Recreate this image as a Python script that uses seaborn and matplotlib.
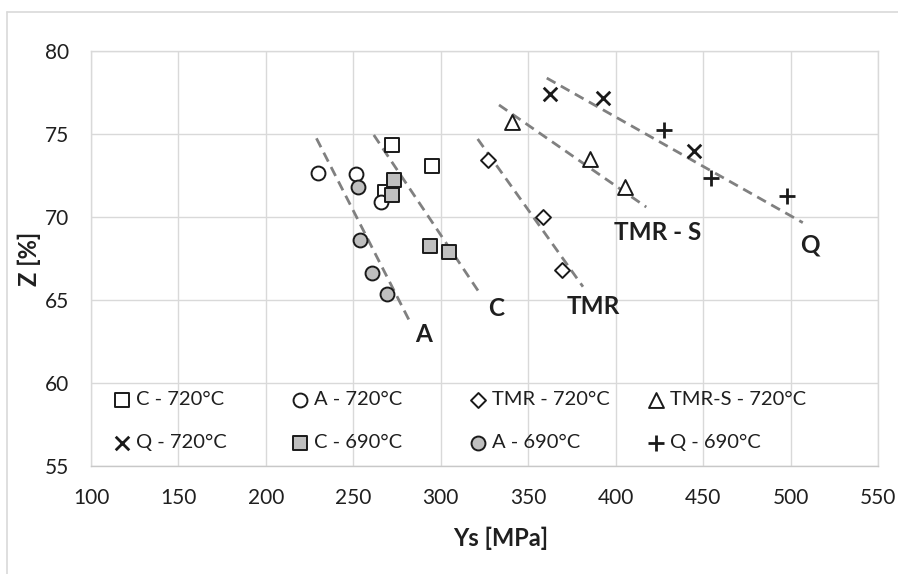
import matplotlib
matplotlib.use("Agg")
import matplotlib.pyplot as plt
import seaborn as sns
import pandas as pd
from matplotlib.lines import Line2D
from matplotlib.legend import Legend

# ---------------- data ----------------
c720_ys = [272.2, 295.2, 268.0]
c720_z = [74.34, 73.07, 71.5]
a720_ys = [229.9, 251.4, 266.1]
a720_z = [72.63, 72.57, 70.9]
tmr720_ys = [327.0, 358.3, 369.5]
tmr720_z = [73.43, 70.02, 66.81]
tmrs720_ys = [340.7, 385.1, 405.1]
tmrs720_z = [75.7, 73.47, 71.83]
q720_ys = [362.3, 392.8, 444.8]
q720_z = [77.39, 77.19, 73.98]
c690_ys = [273.3, 272.2, 293.7, 304.5]
c690_z = [72.2, 71.33, 68.27, 67.88]
a690_ys = [252.4, 253.9, 260.8, 269.5]
a690_z = [71.83, 68.6, 66.64, 65.38]
q690_ys = [427.6, 454.3, 498.1]
q690_z = [75.24, 72.37, 71.28]

series_labels = ["C - 720°C", "A - 720°C", "TMR - 720°C", "TMR-S - 720°C",
                 "Q - 720°C", "C - 690°C", "A - 690°C", "Q - 690°C"]

# trend lines (start / end of each dashed line)
trend_names = ["A", "C", "TMR", "TMR - S", "Q"]
trend_ys = [[228.9, 282.3], [261.7, 321.7], [321.1, 381.3], [333.3, 417.5], [360.6, 507.0]]
trend_z = [[74.74, 63.7], [74.94, 65.5], [74.7, 65.8], [76.75, 70.6], [78.37, 69.66]]
# group label positions
label_ys = [290.3, 331.8, 387.0, 424.2, 510.9]
label_z = [62.9, 64.5, 64.6, 69.08, 68.3]

x_ticks = [100, 150, 200, 250, 300, 350, 400, 450, 500, 550]
y_ticks = [55, 60, 65, 70, 75, 80]

# ---------------- style ----------------
sns.set_style("white")
plt.rcParams["font.family"] = ["Lato", "DejaVu Sans"]
TXT = "#1f1f1f"
GRID = "#d9d9d9"
GRAY = "#bfbfbf"
EDGE = "#1a1a1a"

fig = plt.figure(figsize=(8.98, 5.74), dpi=100)
ax = fig.add_axes([91 / 898, 1 - 466 / 574, (878 - 91) / 898, (466 - 51) / 574])

# trend lines
for xs, zs in zip(trend_ys, trend_z):
    sns.lineplot(x=xs, y=zs, ax=ax, color="#808080", linewidth=2.0,
                 linestyle=(0, (3.6, 2.2)), sort=False, estimator=None, zorder=2)

specs = [
    (c720_ys, c720_z, "s", "white", 100, 1.4),
    (a720_ys, a720_z, "o", "white", 100, 1.4),
    (tmr720_ys, tmr720_z, "D", "white", 58, 1.4),
    (tmrs720_ys, tmrs720_z, "^", "white", 115, 1.4),
    (q720_ys, q720_z, "x", EDGE, 95, 2.0),
    (c690_ys, c690_z, "s", GRAY, 100, 1.4),
    (a690_ys, a690_z, "o", GRAY, 100, 1.4),
    (q690_ys, q690_z, "+", EDGE, 140, 2.0),
]
handles = []
for (xs, zs, mk, fc, s, lw), lab in zip(specs, series_labels):
    n_before = len(ax.collections)
    if mk in ("x", "+"):
        sns.scatterplot(x=xs, y=zs, ax=ax, marker=mk, color=EDGE, s=s,
                        linewidth=lw, legend=False, zorder=3)
    else:
        sns.scatterplot(x=xs, y=zs, ax=ax, marker=mk, color=fc, edgecolor=EDGE,
                        s=s, linewidth=lw, legend=False, zorder=3)
    handles.append(ax.collections[n_before])

# group labels
for name, xv, yv in zip(trend_names, label_ys, label_z):
    ax.text(xv, yv, name, ha="center", va="center", fontsize=17.5,
            fontweight="bold", color=TXT, zorder=4)

ax.set_xlim(100, 550)
ax.set_ylim(55, 80)
ax.set_xticks(x_ticks)
ax.set_yticks(y_ticks)
ax.set_xticklabels([str(v) for v in x_ticks])
ax.set_yticklabels([str(v) for v in y_ticks])
ax.tick_params(axis="both", length=0, labelsize=15, labelcolor=TXT)
ax.tick_params(axis="x", pad=16)
ax.tick_params(axis="y", pad=16)
ax.grid(True, color=GRID, linewidth=1.0, zorder=0)
ax.set_axisbelow(True)
for side in ["left", "right", "top", "bottom"]:
    ax.spines[side].set_color(GRID)
    ax.spines[side].set_linewidth(1.0)
ax.spines["bottom"].set_color("#c8c8c8")

ax.set_xlabel("Ys [MPa]", fontsize=17, fontweight="bold", color=TXT)
ax.xaxis.label.set_verticalalignment("center")
ax.xaxis.set_label_coords((501 - 91) / 787, -(538 - 466) / 415)
ax.set_ylabel("Z [%]", fontsize=17, fontweight="bold", color=TXT)
ax.yaxis.label.set_verticalalignment("center")
ax.yaxis.set_label_coords((29 - 91) / 787, (466 - 259) / 415)

# legend: 4 columns of 2 entries
col_left_px = [114, 292, 470, 648]
order = [(0, 4), (1, 5), (2, 6), (3, 7)]
for left, (i, j) in zip(col_left_px, order):
    leg = Legend(ax, [handles[i], handles[j]], [series_labels[i], series_labels[j]],
                 loc="center left", bbox_to_anchor=((left - 91) / 787, (466 - 421) / 415),
                 frameon=False, fontsize=14.5, borderpad=0, borderaxespad=0,
                 handlelength=0.8, handletextpad=0.3, labelspacing=1.3,
                 scatterpoints=1, labelcolor=TXT)
    ax.add_artist(leg)

# outer chart border (left and top edges visible)
fig.add_artist(Line2D([7 / 898, 7 / 898], [0, 1 - 12 / 574], transform=fig.transFigure,
                      color=GRID, linewidth=1.2))
fig.add_artist(Line2D([7 / 898, 1], [1 - 12 / 574, 1 - 12 / 574], transform=fig.transFigure,
                      color=GRID, linewidth=1.2))

fig.savefig("out.png", dpi=100, facecolor="white")
